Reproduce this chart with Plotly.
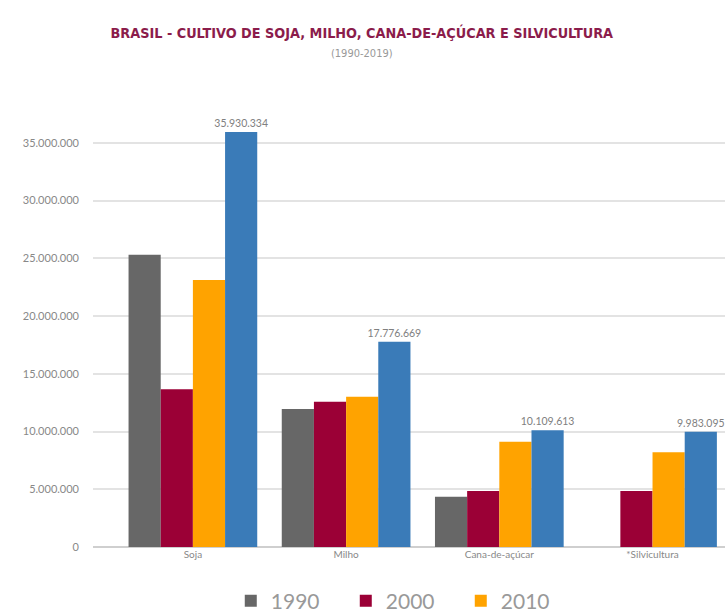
import plotly.graph_objects as go

categories = ["Soja", "Milho", "Cana-de-açúcar", "*Silvicultura"]
years = ["1990", "2000", "2010", "2019"]
v1990 = [25300000, 11960000, 4360000, None]
v2000 = [13660000, 12590000, 4850000, 4850000]
v2010 = [23130000, 13020000, 9120000, 8200000]
v2019 = [35930334, 17776669, 10109613, 9983095]
series = [v1990, v2000, v2010, v2019]
colors = ["#676767", "#9B0036", "#FFA300", "#3A7BB8"]
labels_2019 = ["35.930.334", "17.776.669", "10.109.613", "9.983.095"]

fig = go.Figure()
for yr, vals, col in zip(years, series, colors):
    is_last = yr == "2019"
    fig.add_trace(go.Bar(
        name=yr, x=categories, y=vals, marker=dict(color=col, line=dict(width=0)),
        text=labels_2019 if is_last else None,
        textposition="outside" if is_last else "none",
        textfont=dict(size=10.5, color="#808080", family="Lato"),
        constraintext="none",
        cliponaxis=False,
        showlegend=not is_last,
    ))

fig.update_layout(
    width=725, height=612,
    margin=dict(l=93, r=0, t=114, b=65),
    paper_bgcolor="white", plot_bgcolor="white",
    barmode="group", bargap=0.16, bargroupgap=0,
    separators=",.",
    font=dict(family="Lato", color="#888888"),
    title=dict(
        text="<b>BRASIL - CULTIVO DE SOJA, MILHO, CANA-DE-AÇÚCAR E SILVICULTURA</b>"
             "<br><span style='font-size:11px;color:#999999'>(1990-2019)</span>",
        x=0.499, xref="container", xanchor="center", y=0.938, yanchor="middle",
        font=dict(family="DejaVu Sans Condensed", size=14.3, color="#8B1C4B"),
    ),
    legend=dict(
        orientation="h", x=0.218, xanchor="left", xref="paper",
        y=0.018, yanchor="middle", yref="container",
        font=dict(size=21, color="#999999", family="Lato"),
        itemwidth=30, entrywidth=70, traceorder="normal",
    ),
)
fig.update_xaxes(
    range=[-0.652, 3.473], showline=False, ticks="",
    tickfont=dict(size=10, color="#888888"),
)
fig.update_yaxes(
    range=[0, 37500000], dtick=5000000, tickformat=",d",
    showgrid=True, gridcolor="#E3E3E3", gridwidth=1.5,
    zeroline=True, zerolinecolor="#CFCFCF", zerolinewidth=1.5,
    tickfont=dict(size=11, color="#888888"), ticklabelstandoff=13,
    automargin=False,
)

fig.write_html("out.html", config={"displayModeBar": False},
               post_script="document.body.style.margin='0px';")
